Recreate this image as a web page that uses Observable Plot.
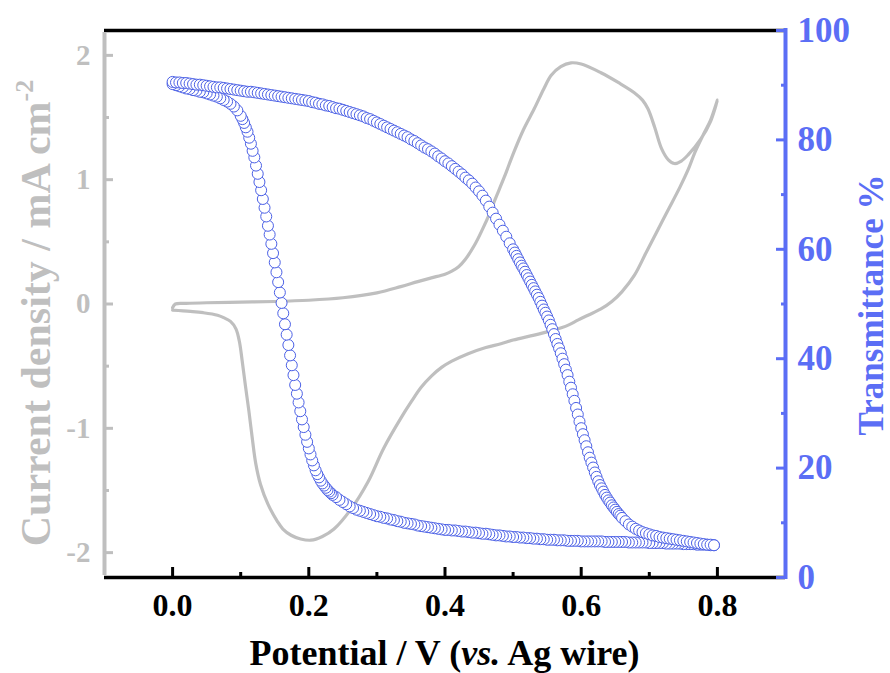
<!DOCTYPE html>
<html><head><meta charset="utf-8">
<script src="https://cdn.jsdelivr.net/npm/d3@7"></script>
<script src="https://cdn.jsdelivr.net/npm/@observablehq/plot@0.6"></script>
<style>
body{margin:0;background:#fff;}
#chart{position:relative;width:890px;height:673px;background:#fff;}
#chart svg{position:absolute;left:0;top:0;}
</style></head><body><div id="chart"></div>
<script>
// axis domains and ticks
const xDomain = [-0.1, 0.9];
const jDomain = [-2.2, 2.2];
const tDomain = [0, 100];
const xTicks = [0, 0.2, 0.4, 0.6, 0.8];
const xMinor = [0.1, 0.3, 0.5, 0.7];
const jTicks = [-2, -1, 0, 1, 2];
const jMinor = [-1.5, -0.5, 0.5, 1.5];
const tTicks = [0, 20, 40, 60, 80, 100];
const tMinor = [10, 30, 50, 70, 90];

// cyclic voltammogram: [potential V, current density mA cm-2]
const cvForward = [[0.000,-0.03],[0.004,0.00],[0.02,0.005],[0.05,0.01],[0.10,0.015],[0.15,0.02],[0.20,0.03],[0.25,0.05],[0.30,0.09],[0.335,0.14],[0.36,0.18],[0.38,0.21],[0.40,0.24],[0.41,0.265],[0.42,0.30],[0.43,0.36],[0.443,0.47],[0.455,0.60],[0.465,0.72],[0.472,0.82],[0.487,1.02],[0.501,1.22],[0.515,1.40],[0.531,1.57],[0.545,1.73],[0.556,1.84],[0.57,1.91],[0.585,1.94],[0.60,1.93],[0.629,1.86],[0.655,1.78],[0.678,1.70],[0.690,1.64],[0.698,1.57],[0.708,1.42],[0.718,1.25],[0.728,1.16],[0.737,1.13],[0.747,1.15],[0.757,1.20],[0.776,1.33],[0.790,1.47],[0.80,1.64]];
const cvReverse = [[0.79,1.48],[0.78,1.37],[0.767,1.22],[0.757,1.08],[0.745,0.94],[0.728,0.76],[0.71,0.57],[0.695,0.41],[0.678,0.23],[0.66,0.10],[0.645,0.02],[0.629,-0.04],[0.61,-0.09],[0.595,-0.13],[0.581,-0.17],[0.56,-0.21],[0.531,-0.25],[0.50,-0.29],[0.482,-0.32],[0.46,-0.35],[0.434,-0.40],[0.41,-0.46],[0.395,-0.51],[0.38,-0.58],[0.365,-0.67],[0.35,-0.79],[0.335,-0.92],[0.31,-1.16],[0.287,-1.43],[0.262,-1.65],[0.237,-1.81],[0.22,-1.87],[0.203,-1.90],[0.188,-1.89],[0.174,-1.86],[0.162,-1.81],[0.154,-1.75],[0.14,-1.61],[0.129,-1.45],[0.122,-1.28],[0.117,-1.08],[0.112,-0.86],[0.107,-0.66],[0.102,-0.45],[0.098,-0.30],[0.093,-0.20],[0.085,-0.14],[0.075,-0.11],[0.066,-0.09],[0.045,-0.07],[0.026,-0.06],[0.00,-0.05]];

// transmittance: [potential V, T %]; reverse sweep (0.8 -> 0) then forward sweep (0 -> 0.8)
const tReverse = [[0.795,5.9],[0.790,5.9],[0.785,6.0],[0.780,6.0],[0.775,6.0],[0.770,6.0],[0.765,6.1],[0.760,6.1],[0.755,6.1],[0.750,6.1],[0.745,6.2],[0.740,6.2],[0.735,6.2],[0.730,6.2],[0.725,6.2],[0.720,6.3],[0.715,6.3],[0.710,6.3],[0.705,6.3],[0.700,6.3],[0.695,6.4],[0.690,6.4],[0.685,6.4],[0.680,6.4],[0.675,6.4],[0.670,6.4],[0.665,6.5],[0.660,6.5],[0.655,6.5],[0.650,6.5],[0.645,6.5],[0.640,6.5],[0.635,6.5],[0.630,6.6],[0.625,6.6],[0.620,6.6],[0.615,6.6],[0.610,6.6],[0.605,6.6],[0.600,6.6],[0.595,6.7],[0.590,6.7],[0.585,6.7],[0.580,6.7],[0.575,6.8],[0.570,6.8],[0.565,6.8],[0.560,6.9],[0.555,6.9],[0.550,6.9],[0.545,7.0],[0.540,7.0],[0.535,7.1],[0.530,7.1],[0.525,7.2],[0.520,7.2],[0.515,7.3],[0.510,7.3],[0.505,7.4],[0.500,7.4],[0.495,7.5],[0.490,7.5],[0.485,7.6],[0.480,7.7],[0.475,7.7],[0.470,7.8],[0.465,7.9],[0.460,8.0],[0.455,8.0],[0.450,8.1],[0.445,8.2],[0.440,8.2],[0.435,8.3],[0.430,8.4],[0.425,8.4],[0.420,8.5],[0.415,8.6],[0.410,8.6],[0.405,8.7],[0.400,8.7],[0.395,8.8],[0.390,8.9],[0.385,9.0],[0.380,9.1],[0.375,9.2],[0.370,9.3],[0.365,9.4],[0.360,9.5],[0.355,9.7],[0.350,9.8],[0.345,9.9],[0.340,10.0],[0.335,10.2],[0.330,10.3],[0.325,10.5],[0.320,10.6],[0.315,10.8],[0.310,10.9],[0.305,11.1],[0.300,11.2],[0.295,11.4],[0.290,11.6],[0.285,11.8],[0.280,12.0],[0.275,12.2],[0.270,12.4],[0.265,12.7],[0.260,13.0],[0.255,13.4],[0.250,13.8],[0.245,14.2],[0.240,14.7],[0.235,15.1],
[0.2325,15.4],[0.2300,15.7],[0.2275,16.0],[0.2250,16.4],[0.2225,16.8],[0.2200,17.2],[0.2175,17.7],[0.2150,18.3],[0.2125,18.9],[0.2100,19.6],[0.2075,20.5],[0.2050,21.4],[0.2025,22.5],[0.2000,23.6],[0.1975,24.8],[0.1950,26.1],[0.1925,27.5],[0.1900,28.9],[0.1875,30.4],[0.1850,32.0],[0.1825,33.6],[0.1800,35.2],[0.1775,37.0],[0.1750,38.8],[0.1725,40.6],[0.1700,42.5],[0.1675,44.4],[0.1650,46.3],[0.1625,48.3],[0.1600,50.2],[0.1575,52.1],[0.1550,54.0],[0.1525,55.8],[0.1500,57.6],[0.1475,59.3],[0.1450,61.0],[0.1425,62.7],[0.1400,64.3],[0.1375,66.0],[0.1350,67.6],[0.1325,69.2],[0.1300,70.8],[0.1275,72.3],[0.1250,73.8],[0.1225,75.3],[0.1200,76.8],[0.1175,78.0],[0.1150,79.3],[0.1125,80.4],[0.1100,81.5],[0.1075,82.3],[0.1050,83.1],[0.1025,83.8],[0.1000,84.4],
[0.095,85.4],[0.090,86.1],[0.085,86.6],[0.080,87.0],[0.075,87.3],[0.070,87.6],[0.065,87.9],[0.060,88.1],[0.055,88.3],[0.050,88.5],[0.045,88.7],[0.040,88.8],[0.035,89.0],[0.030,89.1],[0.025,89.3],[0.020,89.4],[0.015,89.6],[0.010,89.8],[0.005,90.0],[0.000,90.2]];
const tForward = [[0.000,90.6],[0.005,90.5],[0.010,90.5],[0.015,90.4],[0.020,90.4],[0.025,90.3],[0.030,90.2],[0.035,90.1],[0.040,90.1],[0.045,90.0],[0.050,89.9],[0.055,89.8],[0.060,89.7],[0.065,89.6],[0.070,89.6],[0.075,89.5],[0.080,89.4],[0.085,89.3],[0.090,89.2],[0.095,89.1],[0.100,89.0],[0.105,88.9],[0.110,88.8],[0.115,88.8],[0.120,88.7],[0.125,88.6],[0.130,88.5],[0.135,88.4],[0.140,88.3],[0.145,88.2],[0.150,88.1],[0.155,88.0],[0.160,87.9],[0.165,87.8],[0.170,87.7],[0.175,87.6],[0.180,87.5],[0.185,87.4],[0.190,87.3],[0.195,87.2],[0.200,87.1],[0.205,86.9],[0.210,86.8],[0.215,86.6],[0.220,86.5],[0.225,86.3],[0.230,86.2],[0.235,86.0],[0.240,85.8],[0.245,85.7],[0.250,85.5],[0.255,85.3],[0.260,85.1],[0.265,84.9],[0.270,84.7],[0.275,84.5],[0.280,84.3],[0.285,84.0],[0.290,83.8],[0.295,83.5],[0.300,83.2],[0.305,82.9],[0.310,82.6],[0.315,82.3],[0.320,82.0],[0.325,81.7],[0.330,81.4],[0.335,81.1],[0.340,80.8],[0.345,80.5],[0.350,80.1],[0.355,79.8],[0.360,79.4],[0.365,79.0],[0.370,78.6],[0.375,78.3],[0.380,77.9],[0.385,77.5],[0.390,77.0],[0.395,76.6],[0.400,76.1],[0.405,75.7],[0.410,75.2],[0.415,74.7],[0.420,74.2],[0.425,73.7],[0.430,73.1],[0.435,72.6],[0.440,72.0],[0.445,71.3],[0.450,70.6],[0.455,69.8],[0.460,68.9],[0.465,67.8],[0.470,66.7],[0.475,65.6],[0.480,64.5],[0.485,63.4],[0.490,62.3],[0.495,61.1],
[0.5000,60.0],[0.5025,59.4],[0.5050,58.8],[0.5075,58.2],[0.5100,57.6],[0.5125,57.0],[0.5150,56.5],[0.5175,55.9],[0.5200,55.3],[0.5225,54.7],[0.5250,54.1],[0.5275,53.5],[0.5300,52.9],[0.5325,52.3],[0.5350,51.7],[0.5375,51.1],[0.5400,50.4],[0.5425,49.7],[0.5450,49.0],[0.5475,48.4],[0.5500,47.7],[0.5525,47.0],[0.5550,46.2],[0.5575,45.4],[0.5600,44.5],[0.5625,43.6],[0.5650,42.7],[0.5675,41.9],[0.5700,41.0],[0.5725,40.0],[0.5750,39.0],[0.5775,38.0],[0.5800,37.0],[0.5825,35.8],[0.5850,34.7],[0.5875,33.5],[0.5900,32.3],[0.5925,31.0],[0.5950,29.8],[0.5975,28.5],[0.6000,27.3],[0.6025,26.2],[0.6050,25.1],[0.6075,24.0],[0.6100,22.9],[0.6125,21.9],[0.6150,21.0],[0.6175,20.1],[0.6200,19.2],[0.6225,18.4],[0.6250,17.6],[0.6275,16.9],[0.6300,16.3],[0.6325,15.7],[0.6350,15.1],[0.6375,14.6],[0.6400,14.1],[0.6425,13.7],[0.6450,13.2],[0.6475,12.8],[0.6500,12.4],[0.6525,12.0],[0.6550,11.6],[0.6575,11.3],[0.6600,10.9],
[0.665,10.3],[0.670,9.7],[0.675,9.3],[0.680,8.9],[0.685,8.6],[0.690,8.3],[0.695,8.1],[0.700,7.9],[0.705,7.7],[0.710,7.6],[0.715,7.4],[0.720,7.3],[0.725,7.2],[0.730,7.1],[0.735,7.0],[0.740,6.9],[0.745,6.8],[0.750,6.7],[0.755,6.6],[0.760,6.5],[0.765,6.4],[0.770,6.3],[0.775,6.2],[0.780,6.1],[0.785,6.0],[0.790,6.0],[0.795,5.9]];

const xTitle = ["Potential / V (", "vs.", " Ag wire)"];
const jTitle = ["Current density / mA cm", "-2"];
const tTitle = "Transmittance %";

// ---- layout / style ----
const W = 890, H = 673;
const M = {top: 30, right: 105, bottom: 96, left: 104};
const GREY = "#bfbfbf", BLUE = "#5b6ef5", CIRCLE = "#4b60e6";
const FF = "Liberation Serif, 'Times New Roman', serif";
const font = {fontFamily: FF, fontWeight: "bold"};

const cv = [...cvForward, ...cvReverse].map(([v, j]) => ({v, j}));
const tr = [...tReverse, ...tForward].map(([v, t]) => ({v, t}));

const base = {width: W, height: H, marginTop: M.top, marginRight: M.right, marginBottom: M.bottom, marginLeft: M.left,
  style: {background: "transparent", overflow: "visible"}};

const p1 = Plot.plot({...base,
  x: {domain: xDomain, axis: null},
  y: {domain: jDomain, axis: null},
  marks: [
    Plot.line(cv, {x: "v", y: "j", stroke: GREY, strokeWidth: 3.2, curve: "catmull-rom"}),
    Plot.ruleY(jDomain, {stroke: "#000", strokeWidth: 3.5}),
    Plot.ruleX([xDomain[0]], {stroke: GREY, strokeWidth: 4, y1: jDomain[0], y2: jDomain[1], insetBottom: -2, insetTop: -2}),
    Plot.axisX({anchor: "bottom", ticks: xTicks, tickSize: 10, dy: -10, fill: "none", stroke: "#000", strokeWidth: 3, label: null}),
    Plot.axisX({anchor: "bottom", ticks: xMinor, tickSize: 5, dy: -5, fill: "none", stroke: "#000", strokeWidth: 3, label: null}),
    Plot.axisX({anchor: "bottom", ticks: xTicks, tickSize: 0, tickPadding: 16, tickFormat: d3.format(".1f"), fill: "#000", fontSize: 32, ...font, label: null}),
    Plot.axisY({anchor: "left", ticks: jTicks, tickSize: 9, dx: 9, fill: "none", stroke: GREY, strokeWidth: 3, label: null}),
    Plot.axisY({anchor: "left", ticks: jMinor, tickSize: 5, dx: 5, fill: "none", stroke: GREY, strokeWidth: 3, label: null}),
    Plot.axisY({anchor: "left", ticks: jTicks, tickSize: 0, tickPadding: 14, tickFormat: d => `${d}`, fill: GREY, fontSize: 29, ...font, label: null})
  ]
});

const p2 = Plot.plot({...base,
  x: {domain: xDomain, axis: null},
  y: {domain: tDomain, axis: null},
  marks: [
    Plot.dot(tr, {x: "v", y: "t", r: 5.5, fill: "white", stroke: CIRCLE, strokeWidth: 1}),
    Plot.ruleX([xDomain[1]], {stroke: BLUE, strokeWidth: 4, insetBottom: -2, insetTop: -2}),
    Plot.axisY({anchor: "right", ticks: tTicks, tickSize: 10, dx: -10, fill: "none", stroke: BLUE, strokeWidth: 3, label: null}),
    Plot.axisY({anchor: "right", ticks: tMinor, tickSize: 5, dx: -5, fill: "none", stroke: BLUE, strokeWidth: 3, label: null}),
    Plot.axisY({anchor: "right", ticks: tTicks, tickSize: 0, tickPadding: 12, tickFormat: d => `${d}`, fill: BLUE, fontSize: 35, ...font, label: null})
  ]
});

const chart = document.getElementById("chart");
chart.append(p1, p2);

// axis titles as real text
const s = d3.select(p2);
const bt = s.append("text").attr("x", (M.left + W - M.right) / 2).attr("y", 665)
  .attr("text-anchor", "middle").attr("font-family", FF).attr("font-weight", "bold")
  .attr("font-size", 36).attr("fill", "#000");
bt.append("tspan").text(xTitle[0]);
bt.append("tspan").attr("font-style", "italic").text(xTitle[1]);
bt.append("tspan").text(xTitle[2]);

const lt = s.append("text").attr("transform", "translate(50,313) rotate(-90)")
  .attr("text-anchor", "middle").attr("font-family", FF).attr("font-weight", "bold")
  .attr("font-size", 42).attr("fill", GREY);
lt.append("tspan").text(jTitle[0]);
lt.append("tspan").attr("font-size", 26).attr("dy", -17).text(jTitle[1]);

s.append("text").attr("transform", "translate(883,305) rotate(-90)")
  .attr("text-anchor", "middle").attr("font-family", FF).attr("font-weight", "bold")
  .attr("font-size", 35).attr("fill", BLUE).text(tTitle);
</script></body></html>
